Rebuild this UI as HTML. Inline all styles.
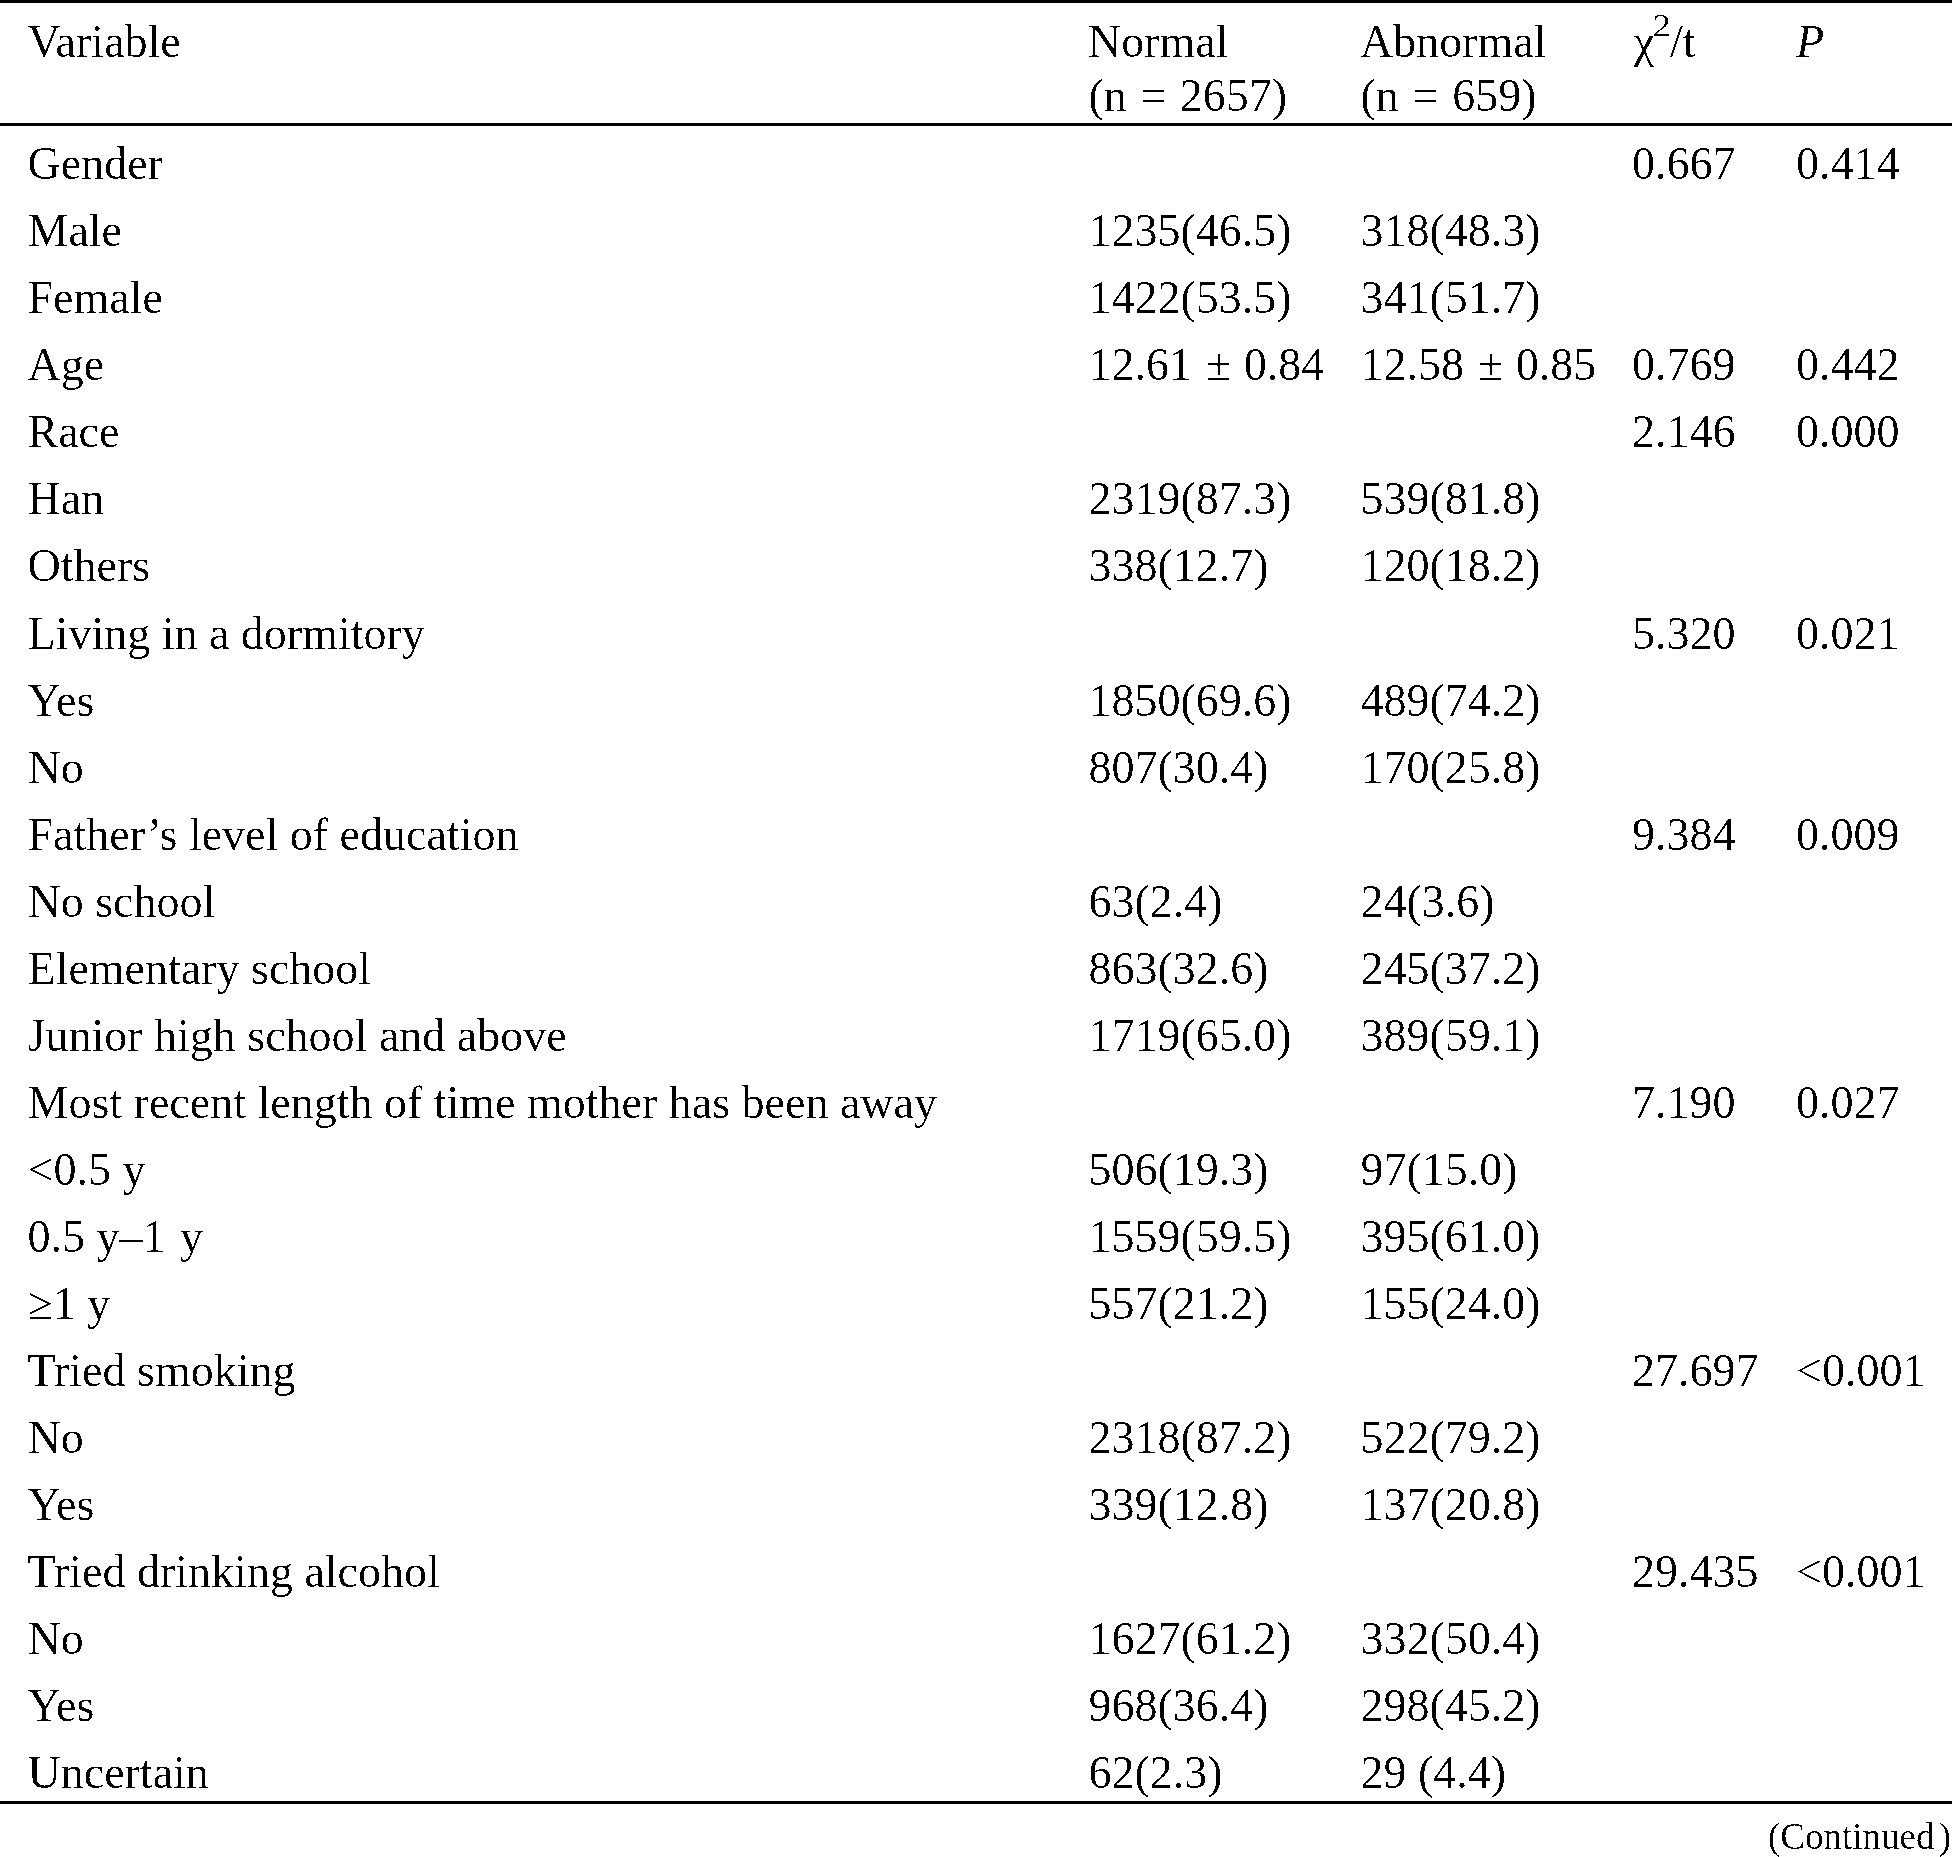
<!DOCTYPE html><html><head><meta charset="utf-8"><style>html,body{margin:0;padding:0;background:#fff;}svg{display:block;}text{font-family:"Liberation Serif","Times New Roman",serif;fill:#000;}</style></head><body>
<svg width="1952" height="1857" viewBox="0 0 1952 1857">
<rect x="0" y="0" width="1952" height="1857" fill="#fff"/>
<defs><filter id="bin" x="0" y="0" width="1952" height="1857" filterUnits="userSpaceOnUse"><feComponentTransfer><feFuncA type="discrete" tableValues="0 0 0 1 1"/></feComponentTransfer></filter></defs>
<g filter="url(#bin)">
<rect x="0" y="0" width="1952" height="3" fill="#000"/>
<rect x="0" y="123" width="1952" height="3" fill="#000"/>
<rect x="0" y="1801" width="1952" height="3" fill="#000"/>
<g font-size="46">
<text x="27.5" y="57">Variable</text>
<text x="1088" y="57">Normal</text>
<text x="1088.5" y="111">(n <tspan dx="2.5">=</tspan><tspan dx="1.5"> 2657)</tspan></text>
<text x="1360" y="57">Abnormal</text>
<text x="1360.5" y="111">(n <tspan dx="2.5">=</tspan><tspan dx="2"> 659)</tspan></text>
<text x="1633.8" y="57" font-style="normal">χ</text>
<text transform="translate(1652.6,36) scale(1.15,1)" font-size="32.5">2</text>
<text x="1669.9" y="57">/t</text>
<text x="1796" y="57" font-style="italic">P</text>
<text x="27.5" y="179">Gender</text>
<text x="1632" y="179">0.667</text>
<text x="1796" y="179">0.414</text>
<text x="27.5" y="246">Male</text>
<text x="1088.5" y="246">1235(46.5)</text>
<text x="1360.5" y="246">318(48.3)</text>
<text x="27.5" y="313">Female</text>
<text x="1088.5" y="313">1422(53.5)</text>
<text x="1360.5" y="313">341(51.7)</text>
<text x="27.5" y="380">Age</text>
<text x="1088.5" y="380">12.61 <tspan dx="2.4">±</tspan><tspan dx="1.2"> 0.84</tspan></text>
<text x="1360.5" y="380">12.58 <tspan dx="2.4">±</tspan><tspan dx="1.2"> 0.85</tspan></text>
<text x="1632" y="380">0.769</text>
<text x="1796" y="380">0.442</text>
<text x="27.5" y="447">Race</text>
<text x="1632" y="447">2.146</text>
<text x="1796" y="447">0.000</text>
<text x="27.5" y="514">Han</text>
<text x="1088.5" y="514">2319(87.3)</text>
<text x="1360.5" y="514">539(81.8)</text>
<text x="27.5" y="581">Others</text>
<text x="1088.5" y="581">338(12.7)</text>
<text x="1360.5" y="581">120(18.2)</text>
<text x="27.5" y="649">Living in a dormitory</text>
<text x="1632" y="649">5.320</text>
<text x="1796" y="649">0.021</text>
<text x="27.5" y="716">Yes</text>
<text x="1088.5" y="716">1850(69.6)</text>
<text x="1360.5" y="716">489(74.2)</text>
<text x="27.5" y="783">No</text>
<text x="1088.5" y="783">807(30.4)</text>
<text x="1360.5" y="783">170(25.8)</text>
<text x="27.5" y="850">Father’s level of education</text>
<text x="1632" y="850">9.384</text>
<text x="1796" y="850">0.009</text>
<text x="27.5" y="917">No school</text>
<text x="1088.5" y="917">63(2.4)</text>
<text x="1360.5" y="917">24(3.6)</text>
<text x="27.5" y="984">Elementary school</text>
<text x="1088.5" y="984">863(32.6)</text>
<text x="1360.5" y="984">245(37.2)</text>
<text x="27.5" y="1051">Junior high school and above</text>
<text x="1088.5" y="1051">1719(65.0)</text>
<text x="1360.5" y="1051">389(59.1)</text>
<text x="27.5" y="1118">Most recent length of time mother has been away</text>
<text x="1632" y="1118">7.190</text>
<text x="1796" y="1118">0.027</text>
<text x="27.5" y="1185">&lt;0.5 y</text>
<text x="1088.5" y="1185">506(19.3)</text>
<text x="1360.5" y="1185">97(15.0)</text>
<text x="27.5" y="1252">0.5 y–1<tspan dx="3"> y</tspan></text>
<text x="1088.5" y="1252">1559(59.5)</text>
<text x="1360.5" y="1252">395(61.0)</text>
<text x="27.5" y="1319">≥1 y</text>
<text x="1088.5" y="1319">557(21.2)</text>
<text x="1360.5" y="1319">155(24.0)</text>
<text x="27.5" y="1386">Tried smoking</text>
<text x="1632" y="1386">27.697</text>
<text x="1796" y="1386">&lt;0.001</text>
<text x="27.5" y="1453">No</text>
<text x="1088.5" y="1453">2318(87.2)</text>
<text x="1360.5" y="1453">522(79.2)</text>
<text x="27.5" y="1520">Yes</text>
<text x="1088.5" y="1520">339(12.8)</text>
<text x="1360.5" y="1520">137(20.8)</text>
<text x="27.5" y="1587">Tried drinking alcohol</text>
<text x="1632" y="1587">29.435</text>
<text x="1796" y="1587">&lt;0.001</text>
<text x="27.5" y="1654">No</text>
<text x="1088.5" y="1654">1627(61.2)</text>
<text x="1360.5" y="1654">332(50.4)</text>
<text x="27.5" y="1721">Yes</text>
<text x="1088.5" y="1721">968(36.4)</text>
<text x="1360.5" y="1721">298(45.2)</text>
<text x="27.5" y="1788">Uncertain</text>
<text x="1088.5" y="1788">62(2.3)</text>
<text x="1360.5" y="1788">29 (4.4)</text>
</g>
<text x="1768" y="1849" font-size="37">(Continued</text>
<text x="1938.8" y="1849" font-size="37">)</text>
</g>
</svg></body></html>
